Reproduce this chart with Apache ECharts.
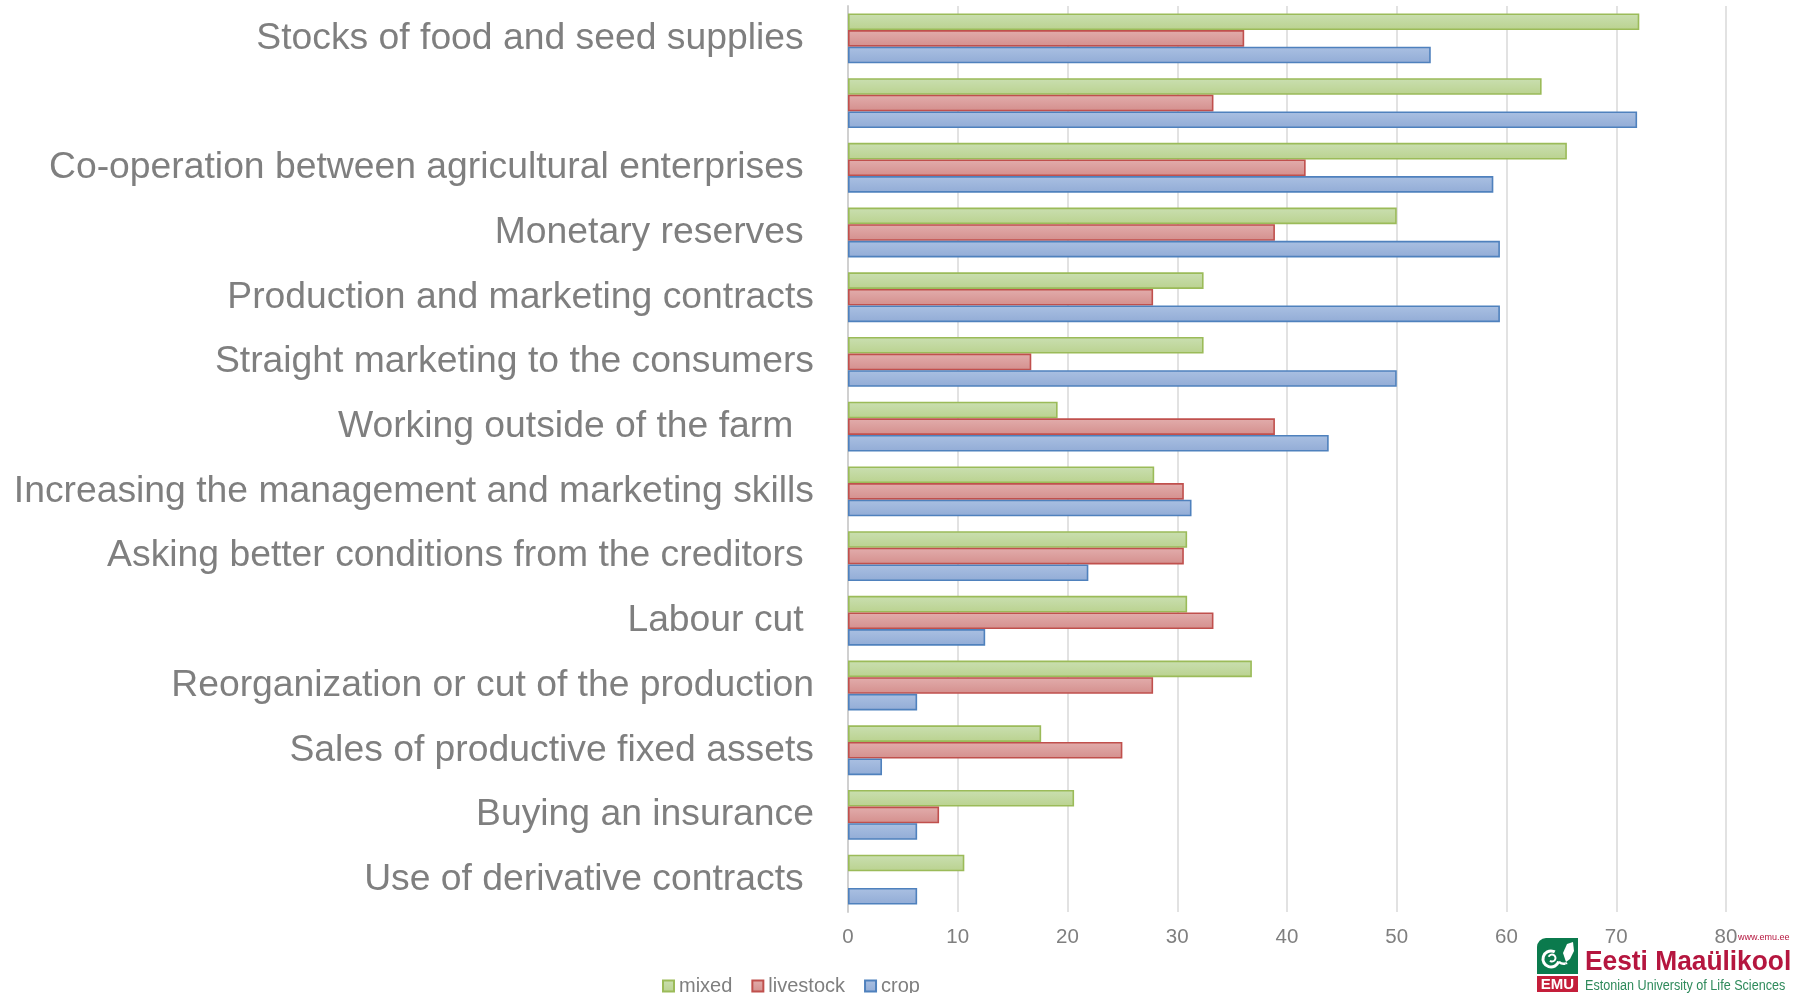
<!DOCTYPE html>
<html>
<head>
<meta charset="utf-8">
<script src="https://cdn.jsdelivr.net/npm/echarts@6/dist/echarts.min.js"></script>
<style>
html,body{margin:0;padding:0;background:#fff;}
#chart{width:1803px;height:993px;}
</style>
</head>
<body>
<div id="chart"></div>
<script>
var categories = [
  'Stocks of food and seed supplies ',
  '',
  'Co-operation between agricultural enterprises ',
  'Monetary reserves ',
  'Production and marketing contracts',
  'Straight marketing to the consumers',
  'Working outside of the farm  ',
  'Increasing the management and marketing skills',
  'Asking better conditions from the creditors ',
  'Labour cut ',
  'Reorganization or cut of the production',
  'Sales of productive fixed assets',
  'Buying an insurance',
  'Use of derivative contracts '
];
var seriesNames = ['mixed', 'livestock', 'crop'];
var mixed     = [72.1, 63.2, 65.5, 50.0, 32.4, 32.4, 19.1, 27.9, 30.9, 30.9, 36.8, 17.6, 20.6, 10.6];
var livestock = [36.1, 33.3, 41.7, 38.9, 27.8, 16.7, 38.9, 30.6, 30.6, 33.3, 27.8, 25.0, 8.3, 0];
var crop      = [53.1, 71.9, 58.8, 59.4, 59.4, 50.0, 43.8, 31.3, 21.9, 12.5, 6.3, 3.1, 6.3, 6.3];
var xTicks = [0, 10, 20, 30, 40, 50, 60, 70, 80];

var FONT = '"Liberation Sans", Arial, sans-serif';
var GRAY = '#7f7f7f';

function grad(top, bottom) {
  return new echarts.graphic.LinearGradient(0, 0, 0, 1, [
    {offset: 0, color: top}, {offset: 1, color: bottom}
  ]);
}
var styles = [
  {fill: grad('#cadfb1', '#bad28f'), border: '#9bbb59'},
  {fill: grad('#e2adac', '#d48f8d'), border: '#c0504d'},
  {fill: grad('#aac0e2', '#92acd6'), border: '#4f81bd'}
];
var values = [mixed, livestock, crop];

var series = seriesNames.map(function (name, i) {
  return {
    name: name,
    type: 'bar',
    data: values[i].map(function (v) {
      // a zero value draws no visible bar (no border sliver)
      return v === 0 ? {value: v, itemStyle: {borderWidth: 0}} : v;
    }),
    barGap: '0%',
    barCategoryGap: '23%',
    itemStyle: {color: styles[i].fill, borderColor: styles[i].border, borderWidth: 1.6},
    emphasis: {disabled: true},
    animation: false
  };
});

var chart = echarts.init(document.getElementById('chart'), null, {renderer: 'canvas'});
chart.setOption({
  animation: false,
  grid: {left: 848, right: 77, top: 6, bottom: 81, containLabel: false},
  legend: {
    data: seriesNames,
    left: 662, top: 976,
    itemWidth: 11, itemHeight: 11, itemGap: 19,
    icon: 'rect',
    textStyle: {fontFamily: FONT, fontSize: 20, color: GRAY},
    padding: 0
  },
  xAxis: {
    type: 'value',
    min: xTicks[0], max: xTicks[xTicks.length - 1], interval: 10,
    axisLine: {show: false},
    axisTick: {show: false},
    splitLine: {show: true, lineStyle: {color: '#d9d9d9', width: 1.5}},
    axisLabel: {fontFamily: FONT, fontSize: 20.5, color: GRAY, margin: 15}
  },
  yAxis: {
    type: 'category',
    data: categories,
    inverse: true,
    axisLine: {show: true, lineStyle: {color: '#d0d0d0', width: 2}},
    axisTick: {show: false},
    splitLine: {show: false},
    axisLabel: {fontFamily: FONT, fontSize: 37.3, color: GRAY, margin: 34, interval: 0}
  },
  series: series,
  graphic: [
    {type: 'rect', shape: {x: 1537, y: 938, width: 41, height: 36, r: [9, 0, 0, 0]}, style: {fill: '#0b7a4d'}},
    {type: 'arc', shape: {cx: 1551, cy: 959, r: 8, startAngle: 0.3, endAngle: 5.2}, style: {stroke: '#ffffff', lineWidth: 3, fill: null}},
    {type: 'arc', shape: {cx: 1552, cy: 958, r: 3.5, startAngle: 3.5, endAngle: 8.5}, style: {stroke: '#ffffff', lineWidth: 2, fill: null}},
    {type: 'bezierCurve', shape: {x1: 1559, y1: 962, x2: 1566, y2: 964, cpx1: 1564, cpy1: 966, cpx2: 1567, cpy2: 962}, style: {stroke: '#ffffff', lineWidth: 2.5, fill: null}},
    {type: 'polygon', shape: {points: [[1566, 962], [1563, 953], [1567, 944], [1573, 942], [1574, 951], [1570, 959]]}, style: {fill: '#ffffff'}},
    {type: 'rect', shape: {x: 1537, y: 976, width: 41, height: 16}, style: {fill: '#c41e3a'}},
    {type: 'text', x: 1557.5, y: 984.5, style: {text: 'EMU', fill: '#ffffff', font: 'bold 15px ' + FONT, align: 'center', verticalAlign: 'middle'}},
    {type: 'text', x: 1585, y: 962, scaleX: 0.94, style: {text: 'Eesti Maa\u00fclikool', fill: '#b5163f', font: 'bold 28px ' + FONT, align: 'left', verticalAlign: 'middle'}},
    {type: 'text', x: 1585, y: 986, scaleX: 0.9, style: {text: 'Estonian University of Life Sciences', fill: '#2f8a5b', font: '14px ' + FONT, align: 'left', verticalAlign: 'middle'}},
    {type: 'text', x: 1738, y: 938, style: {text: 'www.emu.ee', fill: '#b5163f', font: '9px ' + FONT, align: 'left', verticalAlign: 'middle'}}
  ]
});
</script>
</body>
</html>
